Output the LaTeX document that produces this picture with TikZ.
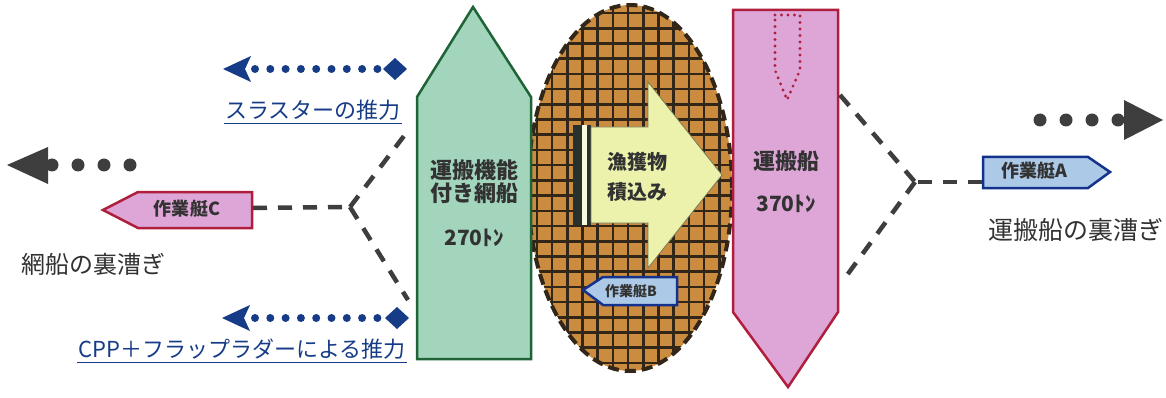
\documentclass[tikz,border=0pt]{standalone}
\usepackage{fontspec}
\setmainfont{Noto Sans CJK JP}
\definecolor{greenfill}{RGB}{163,212,188}
\definecolor{greendraw}{RGB}{30,100,55}
\definecolor{pinkfill}{RGB}{221,166,214}
\definecolor{pinkdraw}{RGB}{175,30,60}
\definecolor{brownfill}{RGB}{204,140,64}
\definecolor{gridcol}{RGB}{50,38,24}
\definecolor{arrowfill}{RGB}{236,242,172}
\definecolor{boatblue}{RGB}{172,202,232}
\definecolor{boatbluedraw}{RGB}{20,50,140}
\definecolor{thrustblue}{RGB}{22,60,135}
\definecolor{dgrey}{RGB}{62,62,62}
\definecolor{txtgrey}{RGB}{50,50,50}
\definecolor{bardark}{RGB}{40,50,45}
\begin{document}
\begin{tikzpicture}[x=1pt,y=-1pt,
  lbl/.style={inner sep=0pt, text=txtgrey, font=\fontsize{22}{26}\selectfont\bfseries},
  plain/.style={inner sep=0pt, text=txtgrey, font=\fontsize{24}{26}\selectfont},
  thrust/.style={inner sep=1pt, text=thrustblue, font=\fontsize{22}{26}\selectfont},
  boattxt/.style={inner sep=0pt, text=txtgrey, font=\fontsize{18}{20}\selectfont\bfseries},
  dashline/.style={draw=dgrey, line width=4.5pt, dash pattern=on 14pt off 11pt},
  bluedots/.style={draw=thrustblue, line width=8pt, line cap=round, dash pattern=on 0pt off 15.3pt},
  greydots/.style={draw=dgrey, line width=13pt, line cap=round, dash pattern=on 0pt off 26pt},
  gridline/.style={draw=gridcol, line width=2.6pt}]
\useasboundingbox[fill=white] (0,0) rectangle (1166,398);

% ---- catch zone (ellipse with grid)
\begin{scope}
  \clip (630,188) ellipse [x radius=102pt, y radius=183pt];
  \fill[brownfill] (520,0) rectangle (740,398);
  \foreach \x in {521.6,536.8,...,745} \draw[gridline] (\x,0) -- (\x,398);
  \foreach \y in {-2,13.2,...,400} \draw[gridline] (520,\y) -- (740,\y);
\end{scope}
\draw[draw=gridcol, line width=4pt, dash pattern=on 11pt off 6pt] (630,188) ellipse [x radius=102pt, y radius=183pt];

% ---- loading arrow
\fill[bardark] (573,125) rectangle (582,225);
\fill[arrowfill!40!white] (582,125) rectangle (587,225);
\fill[bardark] (587,125) rectangle (591,225);
\draw[arrowfill!50!black, line width=0.8pt, fill=arrowfill] (591,127) -- (648,127) -- (648,82) -- (722,175) -- (648,268) -- (648,223) -- (591,223) -- cycle;
\node[lbl, font=\fontsize{20}{24}\selectfont\bfseries] (catch1) at (637,162) {漁獲物};
\node[lbl, font=\fontsize{20}{24}\selectfont\bfseries] (catch2) at (637,192) {積込み};

% ---- boat B
\draw[draw=boatbluedraw, line width=2.5pt, fill=boatblue] (583,290) -- (603,277) -- (677,277) -- (677,305) -- (603,305) -- cycle;
\node[boattxt, font=\fontsize{14}{16}\selectfont\bfseries] (boatB) at (631,291) {作業艇B};

% ---- net boat (green)
\draw[draw=greendraw, line width=2.5pt, fill=greenfill] (417,359) -- (417,97) -- (473,7) -- (531,97) -- (531,359) -- cycle;
\node[lbl] (net1) at (474,170) {運搬機能};
\node[lbl] (net2) at (474,193) {付き網船};
\node[lbl, font=\fontsize{21}{24}\selectfont\bfseries] (net3) at (474,238) {270ﾄﾝ};

% ---- carrier (pink)
\draw[draw=pinkdraw, line width=2.5pt, fill=pinkfill] (733,10) -- (838,10) -- (838,312) -- (788,387) -- (733,312) -- cycle;
\draw[draw=pinkdraw, line width=3.2pt, line cap=round, dash pattern=on 0pt off 6.5pt] (775,15) -- (800,15) -- (800,70) -- (787,100) -- (775,70) -- cycle;
\node[lbl, font=\fontsize{22}{26}\selectfont\bfseries] (car1) at (786,161) {運搬船};
\node[lbl, font=\fontsize{21}{24}\selectfont\bfseries] (car2) at (786,204) {370ﾄﾝ};

% ---- boat C
\draw[draw=pinkdraw, line width=2.5pt, fill=pinkfill] (103,210) -- (138,192) -- (252,192) -- (252,228) -- (138,228) -- cycle;
\node[boattxt] (boatC) at (187,209) {作業艇C};
\coordinate (cR) at (253,208);

% ---- boat A
\draw[draw=boatbluedraw, line width=2.5pt, fill=boatblue] (983,157) -- (1088,157) -- (1110,172) -- (1088,188) -- (983,188) -- cycle;
\node[boattxt] (boatA) at (1034,171) {作業艇A};
\coordinate (aL) at (982,182);

% ---- dashed tow lines (left)
\coordinate (jL) at (350,207);
\coordinate (nU) at (407,132);
\coordinate (nD) at (408,300);
\draw[dashline] (cR) -- (jL);
\draw[dashline] (jL) -- (nU);
\draw[dashline] (jL) -- (nD);

% ---- dashed tow lines (right)
\coordinate (jR) at (915,182);
\coordinate (pU) at (840,95);
\coordinate (pD) at (842,282);
\draw[dashline] (aL) -- (jR);
\draw[dashline] (pU) -- (jR);
\draw[dashline] (jR) -- (pD);

% ---- thrust arrows (blue)
\coordinate (dU) at (395,69);
\coordinate (hU) at (223,69);
\draw[bluedots] (255,69) -- (384,69);
\fill[thrustblue] (383,69) -- (395,58) -- (407,69) -- (395,80) -- cycle;
\fill[thrustblue] (hU) -- (251,56) -- (245,69) -- (251,82) -- cycle;
\node[thrust] (thrU) at (313,110) {スラスターの推力};
\draw[thrustblue, line width=1.6pt] ([yshift=-2pt]thrU.south west) -- ([yshift=-2pt]thrU.south east);

\coordinate (dD) at (397,318);
\coordinate (hD) at (222,318);
\draw[bluedots] (255,318) -- (385,318);
\fill[thrustblue] (385,318) -- (397,307) -- (409,318) -- (397,329) -- cycle;
\fill[thrustblue] (hD) -- (250,305) -- (244,318) -- (250,331) -- cycle;
\node[thrust] (thrD) at (242,349) {CPP＋フラップラダーによる推力};
\draw[thrustblue, line width=1.6pt] ([yshift=-2pt]thrD.south west) -- ([yshift=-2pt]thrD.south east);

% ---- motion arrows (grey)
\coordinate (gL) at (7,165);
\draw[greydots] (52,165) -- (140,165);
\fill[dgrey] (gL) -- (48,147) -- (48,184) -- cycle;

\coordinate (gR) at (1163,120);
\draw[greydots] (1040,120) -- (1120,120);
\fill[dgrey] (gR) -- (1124,100) -- (1124,140) -- cycle;

% ---- captions
\node[plain] (capL) at (93,264) {網船の裏漕ぎ};
\node[plain, anchor=west, font=\fontsize{25}{28}\selectfont] (capR) at (988,230) {運搬船の裏漕ぎ};
\end{tikzpicture}
\end{document}
